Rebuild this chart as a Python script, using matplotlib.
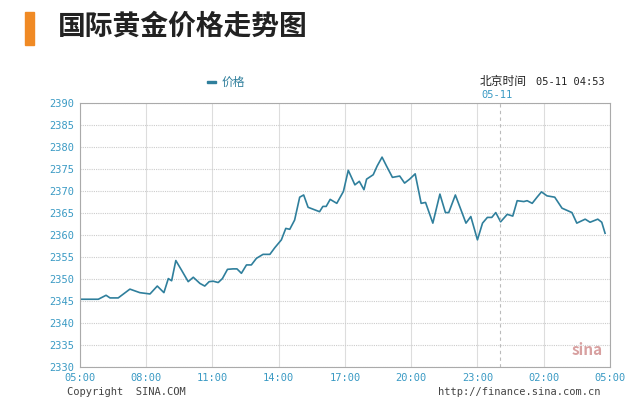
import matplotlib
matplotlib.use("Agg")
import matplotlib.pyplot as plt
from matplotlib.patches import Rectangle

plt.rcParams['font.family'] = ['Noto Sans CJK SC', 'DejaVu Sans']

hours = [0, 0.83, 1.18, 1.36, 1.73, 2.26, 2.71, 3.17, 3.5, 3.8, 4.0, 4.15, 4.34, 4.6, 4.9, 5.13, 5.43, 5.65, 5.85, 6.03, 6.26, 6.45, 6.68, 6.93, 7.11, 7.31, 7.54, 7.76, 7.99, 8.29, 8.6, 8.82, 9.12, 9.32, 9.5, 9.72, 9.95, 10.13, 10.33, 10.85, 11.0, 11.15, 11.33, 11.63, 11.93, 12.15, 12.45, 12.65, 12.86, 12.98, 13.28, 13.46, 13.68, 13.88, 14.15, 14.48, 14.7, 14.93, 15.18, 15.45, 15.65, 15.98, 16.3, 16.55, 16.7, 17.0, 17.48, 17.7, 18.0, 18.23, 18.45, 18.65, 18.83, 19.05, 19.35, 19.6, 19.8, 20.1, 20.25, 20.48, 20.7, 20.9, 21.15, 21.5, 21.83, 22.28, 22.5, 22.88, 23.1, 23.45, 23.63, 23.78]
prices = [2345.4, 2345.4, 2346.3, 2345.7, 2345.7, 2347.7, 2346.9, 2346.6, 2348.4, 2346.9, 2350.1, 2349.6, 2354.2, 2352.0, 2349.4, 2350.4, 2349.0, 2348.4, 2349.4, 2349.5, 2349.2, 2350.1, 2352.2, 2352.3, 2352.3, 2351.3, 2353.2, 2353.2, 2354.7, 2355.6, 2355.6, 2357.1, 2358.9, 2361.5, 2361.3, 2363.4, 2368.6, 2369.1, 2366.3, 2365.3, 2366.5, 2366.5, 2368.1, 2367.2, 2369.9, 2374.7, 2371.4, 2372.2, 2370.3, 2372.7, 2373.7, 2375.7, 2377.7, 2375.7, 2373.1, 2373.4, 2371.8, 2372.7, 2373.9, 2367.2, 2367.4, 2362.7, 2369.3, 2365.1, 2365.1, 2369.1, 2362.7, 2364.2, 2358.9, 2362.7, 2364.0, 2364.0, 2365.1, 2363.0, 2364.7, 2364.3, 2367.8, 2367.6, 2367.8, 2367.2, 2368.6, 2369.8, 2368.9, 2368.6, 2366.1, 2365.1, 2362.7, 2363.6, 2362.9, 2363.6, 2362.9, 2360.4]
x_ticks = [0, 3, 6, 9, 12, 15, 18, 21, 24]
x_labels = ["05:00", "08:00", "11:00", "14:00", "17:00", "20:00", "23:00", "02:00", "05:00"]
y_ticks = list(range(2330, 2391, 5))

fig = plt.figure(figsize=(6.4, 4.08), dpi=100)
ax = fig.add_axes([0.125, 0.1005, 0.828, 0.647])
ax.plot(hours, prices, color='#2f7f9c', lw=1.2)
ax.set_xlim(0, 24)
ax.set_ylim(2330, 2390)
ax.set_xticks(x_ticks)
ax.set_xticklabels(x_labels)
ax.set_yticks(y_ticks)
for lab in ax.get_xticklabels() + ax.get_yticklabels():
    lab.set_fontproperties('DejaVu Sans Mono'); lab.set_fontsize(7.5); lab.set_color('#3a9ac4')
ax.tick_params(length=0, pad=4)
ax.grid(axis='y', color='#cccccc', ls=(0, (1, 1)), lw=0.8)
ax.grid(axis='x', color='#dddddd', ls='-', lw=0.8)
ax.axvline(19, color='#bbbbbb', ls=(0, (3, 3)), lw=0.8)
for s in ax.spines.values():
    s.set_color('#aaaaaa')

fig.patches.append(Rectangle((25/640, 1-45/408), 9/640, 33/408, transform=fig.transFigure, color='#f08a24'))
fig.text(58/640, 1-27/408, "国际黄金价格走势图", fontsize=20, fontweight='bold', va='center', color='#222222')
fig.patches.append(Rectangle((207/640, 1-83/408), 9/640, 2.5/408, transform=fig.transFigure, color='#2f7f9c'))
fig.text(222/640, 1-82/408, "价格", fontsize=8.5, va='center', color='#2f7f9c')
fig.text(480/640, 1-82/408, "北京时间", fontsize=8.5, va='center', color='#222222')
fig.text(536/640, 1-82/408, "05-11 04:53", fontsize=7.5, family='DejaVu Sans Mono', va='center', color='#222222')
fig.text(481/640, 1-95/408, "05-11", fontsize=7.5, family='DejaVu Sans Mono', va='center', color='#3a9ac4')
fig.text(67/640, 1-392/408, "Copyright  SINA.COM", fontsize=7.5, family='DejaVu Sans Mono', va='center', color='#444444')
fig.text(438/640, 1-392/408, "http://finance.sina.com.cn", fontsize=7.5, family='DejaVu Sans Mono', va='center', color='#444444')
fig.text(603/640, 1-350/408, "sina", fontsize=11, fontweight='bold', style='italic', ha='right', va='center', color='#d8a0a0')
fig.savefig("out.png", dpi=100)
